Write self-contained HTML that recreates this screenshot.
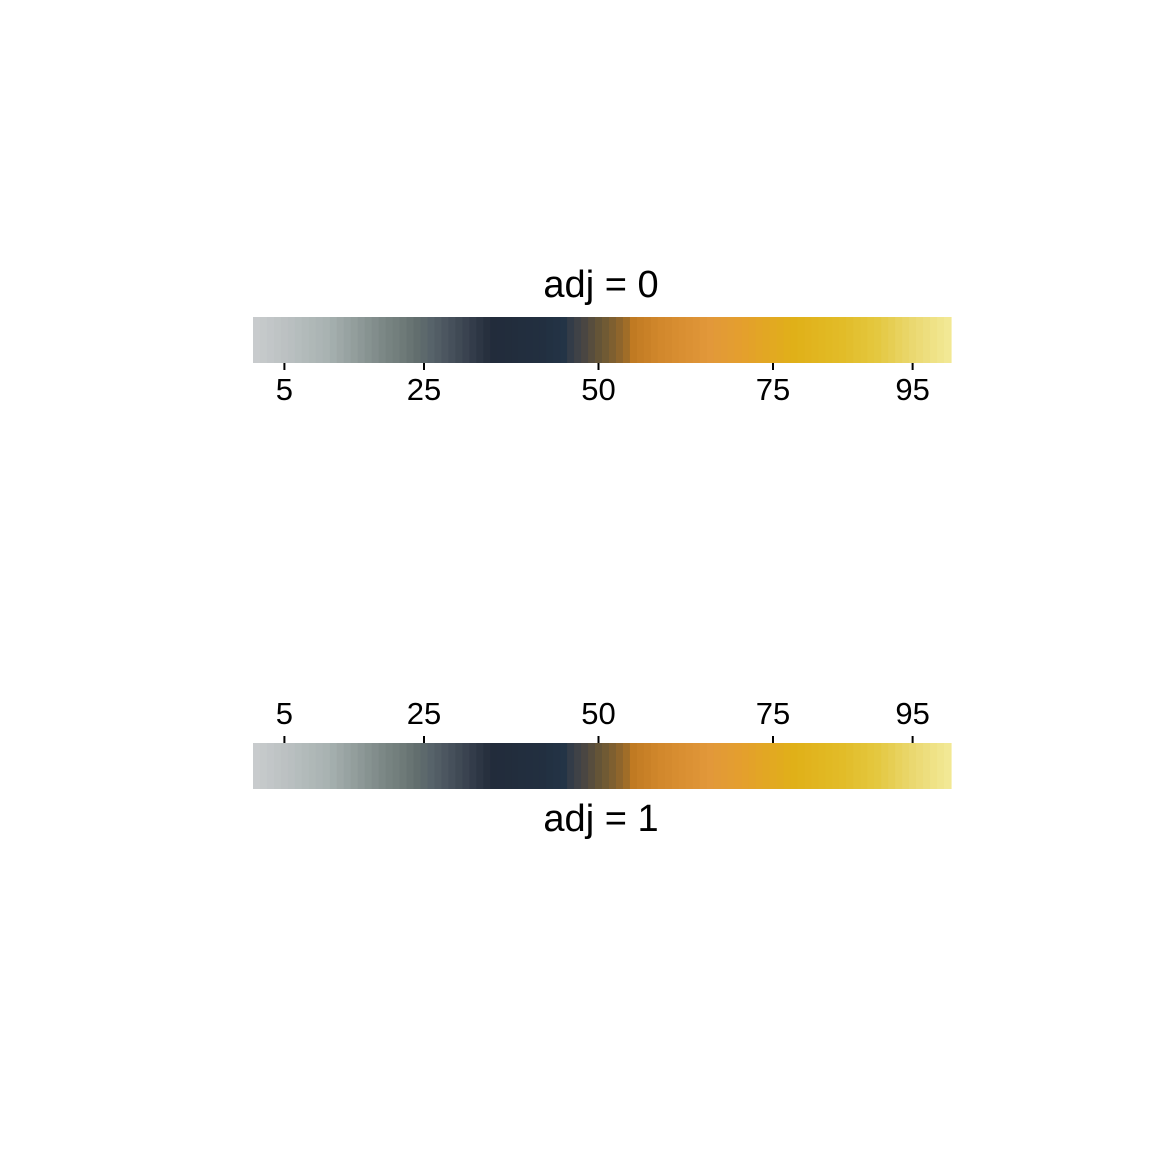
<!DOCTYPE html>
<html><head><meta charset="utf-8"><style>
body{margin:0;background:#fff}
svg text{font-family:"Liberation Sans",sans-serif;fill:#000}
</style></head><body>
<svg id="c" width="1152" height="1152" xmlns="http://www.w3.org/2000/svg">
<rect width="1152" height="1152" fill="#fff"/>
<text x="601" y="297" font-size="38" text-anchor="middle">adj = 0</text>
<text x="601" y="831" font-size="38" text-anchor="middle">adj = 1</text>
<g id="bar1"></g>
<g id="bar2"></g>
</svg>
<script>
const nCells = 100;
const tickValues = [5, 25, 50, 75, 95];
const tickLabels = ["5", "25", "50", "75", "95"];
const stopCells = [1, 11, 19, 22, 24, 26, 28, 30, 32, 34, 35, 42, 45, 46, 47, 48, 49, 50, 51, 52, 53, 54, 55, 59, 66, 71, 78, 85, 90, 95, 100];
const stopColors = ["#c8cbcd","#a9b3b2","#7c8886","#6e7a78","#626e6e","#57636a","#4c5660","#404a55","#333c4a","#27303e","#222c3b","#222f40","#233446","#333c48","#3f4247","#4a4642","#574d3d","#645437","#705a34","#7e5f30","#8e652c","#a06d28","#c07a22","#d2882c","#e2983a","#e4a02c","#e0b018","#e2bc28","#e4c840","#ead870","#f2e894"];
const X0 = 253, X1 = 951;
const cw = (X1 - X0) / nCells;
const xCell = i => X0 + (i - 1) * cw;
const xVal = v => X0 + (v - 0.5) * cw;
function hex(c){return [1,3,5].map(k=>parseInt(c.substr(k,2),16));}
function colorAt(i){
  for(let k=0;k<stopCells.length-1;k++){
    if(i<=stopCells[k+1]){
      const t=(i-stopCells[k])/(stopCells[k+1]-stopCells[k]);
      const a=hex(stopColors[k]),b=hex(stopColors[k+1]);
      return 'rgb('+a.map((v,j)=>Math.round(v+(b[j]-v)*t)).join(',')+')';
    }
  }
  return stopColors[stopColors.length-1];
}
const NS="http://www.w3.org/2000/svg";
function drawBar(g, y, h, tickY1, tickY2, labelY){
  for(let i=1;i<=nCells;i++){
    const r=document.createElementNS(NS,'rect');
    r.setAttribute('x',xCell(i));r.setAttribute('y',y);
    r.setAttribute('width',cw+0.6);r.setAttribute('height',h);
    r.setAttribute('fill',colorAt(i));
    
    
    g.appendChild(r);
  }
  tickValues.forEach((v,k)=>{
    const l=document.createElementNS(NS,'line');
    l.setAttribute('x1',xVal(v));l.setAttribute('x2',xVal(v));
    l.setAttribute('y1',tickY1);l.setAttribute('y2',tickY2);
    l.setAttribute('stroke','#000');l.setAttribute('stroke-width','2');
    
    
    g.appendChild(l);
    const t=document.createElementNS(NS,'text');
    t.setAttribute('x',xVal(v));t.setAttribute('y',labelY);
    t.setAttribute('font-size','31');t.setAttribute('text-anchor','middle');
    t.textContent=tickLabels[k];
    
    
    g.appendChild(t);
  });
}
drawBar(document.getElementById('bar1'),317,46,363,370,400);
drawBar(document.getElementById('bar2'),743,46,736,743,724);
</script>
</body></html>
